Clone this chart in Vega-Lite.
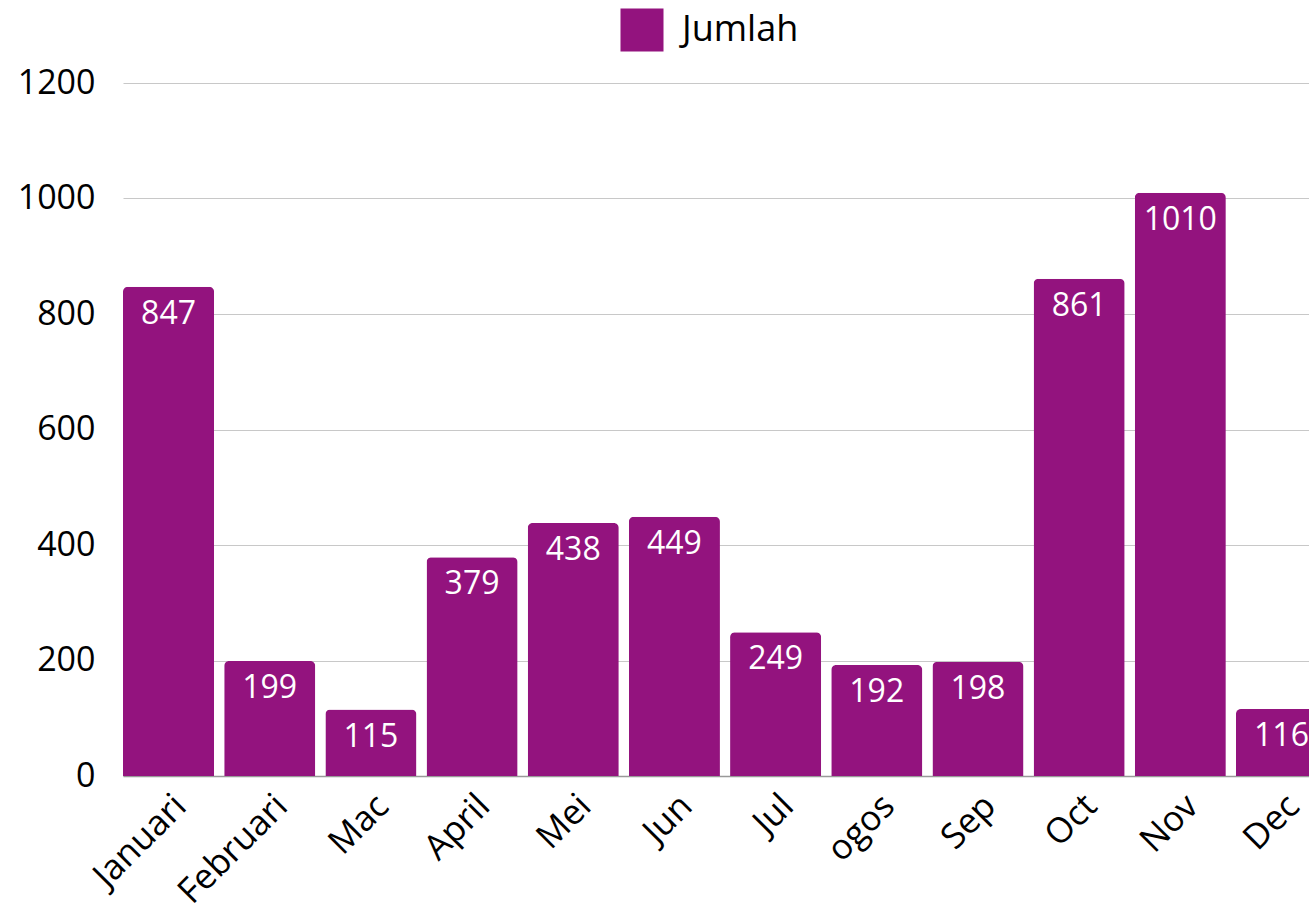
{
  "$schema": "https://vega.github.io/schema/vega-lite/v6.json",
  "width": 1186,
  "height": 693,
  "autosize": {"type": "none"},
  "padding": {"left": 123, "top": 83, "right": 0, "bottom": 146},
  "background": "white",
  "config": {
    "font": "Open Sans",
    "view": {"stroke": null}
  },
  "data": {
    "values": [
      {"bulan": "Januari", "jumlah": 847},
      {"bulan": "Februari", "jumlah": 199},
      {"bulan": "Mac", "jumlah": 115},
      {"bulan": "April", "jumlah": 379},
      {"bulan": "Mei", "jumlah": 438},
      {"bulan": "Jun", "jumlah": 449},
      {"bulan": "Jul", "jumlah": 249},
      {"bulan": "ogos", "jumlah": 192},
      {"bulan": "Sep", "jumlah": 198},
      {"bulan": "Oct", "jumlah": 861},
      {"bulan": "Nov", "jumlah": 1010},
      {"bulan": "Dec", "jumlah": 116}
    ]
  },
  "encoding": {
    "x": {
      "field": "bulan",
      "type": "nominal",
      "sort": null,
      "title": null,
      "scale": {"range": [0, 1204], "paddingInner": 0.1, "paddingOuter": 0},
      "axis": {
        "labelAngle": -45,
        "labelAlign": "right",
        "labelBaseline": "top",
        "labelFontSize": 35,
        "labelColor": "#000000",
        "labelPadding": 12,
        "ticks": false,
        "domainColor": "#999999",
        "domainWidth": 1.5,
        "grid": false
      }
    },
    "y": {
      "field": "jumlah",
      "type": "quantitative",
      "title": null,
      "scale": {"domain": [0, 1200], "nice": false},
      "axis": {
        "values": [0, 200, 400, 600, 800, 1000, 1200],
        "format": "d",
        "labelFontSize": 34,
        "labelColor": "#000000",
        "labelPadding": 28,
        "ticks": false,
        "domain": false,
        "gridColor": "#c8c8c8",
        "gridWidth": 1.2
      }
    }
  },
  "layer": [
    {
      "mark": {"type": "bar", "cornerRadiusTopLeft": 5, "cornerRadiusTopRight": 5},
      "encoding": {
        "color": {
          "datum": "Jumlah",
          "scale": {"range": ["#93137e"]},
          "legend": {
            "title": null,
            "orient": "none",
            "legendX": 497,
            "legendY": -75,
            "direction": "horizontal",
            "symbolType": "square",
            "symbolSize": 1850,
            "symbolStrokeWidth": 0,
            "labelFontSize": 36,
            "labelColor": "#000000",
            "labelOffset": 18
          }
        }
      }
    },
    {
      "mark": {"type": "text", "baseline": "top", "dy": 12, "fontSize": 32, "color": "white"},
      "encoding": {
        "text": {"field": "jumlah", "type": "quantitative"}
      }
    }
  ]
}
